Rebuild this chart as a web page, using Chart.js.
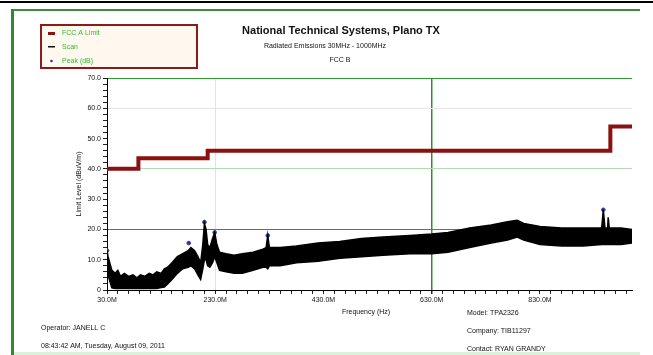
<!DOCTYPE html>
<html>
<head>
<meta charset="utf-8">
<script src="https://cdn.jsdelivr.net/npm/chart.js@4.4.1/dist/chart.umd.min.js"></script>
<style>
html,body{margin:0;padding:0;background:#fff;}
#wrap{width:653px;height:355px;position:relative;}
</style>
</head>
<body>
<div id="wrap"><canvas id="c" width="653" height="355"></canvas></div>
<script>
// ---- data ----
const limitFreq  = [30, 88, 88, 216, 216, 960, 960, 1000];
const limitLevel = [40, 40, 43.5, 43.5, 46, 46, 54, 54];

const scanFreq = [30,32,35,39,45,50,55,62,70,78,85,92,100,108,115,122,130,136,142,150,160,170,180,185,192,198,203,207,210,213,216,220,225,229,233,238,250,265,280,300,318,324,327,330,350,380,420,460,500,540,590,630,660,700,740,770,788,800,830,870,910,944,947,950,955,956,958,980,1000];
const scanHigh = [13,11,9,6.5,5.5,6.5,4.5,5.5,4.5,5,4,5,4.5,5.5,5,6,5.5,7,7.5,9,11,12,13,14,13,11,9,15,22,20,15,14,17,19,15,12.5,12,11.5,12,12.5,13.5,14,18,14,14,14.5,15.5,16,17,17.5,18,18.5,19,20.5,21.5,22.5,23,22,21,20.5,20.5,20.5,26.5,20.5,20.5,24,20.5,20.5,20];
const scanLow  = [7.5,5,3,0.7,0.5,0.5,0.5,0.5,0.5,0.5,0.5,0.5,0.5,0.5,0.5,0.5,0.8,1,2,3.5,5.5,7,7.5,8,7,5,3.5,7,10,10,8,7.5,9,11,9,6.5,6,5.5,5.5,6.5,7.5,7.5,7,8,8,9,9.5,10.5,11,11.5,12,12,12.5,14,15.5,16.5,17.5,16.5,15,14.5,14.5,15,15,15,15,15,15,15,15.5];

const peakFreq  = [30, 181, 210, 229, 327, 947];
const peakLevel = [13, 15.5, 22.4, 19, 18, 26.5];

const xMajorTicks = [30, 230, 430, 630, 830];
const yMajorTicks = [0, 10, 20, 30, 40, 50, 60, 70];

const legendLabels = ["FCC A Limit", "Scan", "Peak (dB)"];

const toXY = (xs, ys) => xs.map((x, i) => ({x: x, y: ys[i]}));

const FONT = '"Liberation Sans", Arial, sans-serif';

const decor = {
  id: 'decor',
  beforeDraw(chart) {
    const ctx = chart.ctx;
    ctx.save();
    ctx.fillStyle = '#ffffff';
    ctx.fillRect(0, 0, chart.width, chart.height);
    ctx.fillStyle = '#000000';
    ctx.fillRect(0, 1, 653, 2);
    ctx.fillStyle = '#3f8a3f';
    ctx.fillRect(12, 9, 628, 2);
    ctx.fillStyle = '#2f8a2f';
    ctx.fillRect(11, 9, 3, 346);
    ctx.fillStyle = '#dcf0dc';
    ctx.fillRect(14, 352, 626, 3);
    ctx.restore();
  },
  afterDraw(chart) {
    const ctx = chart.ctx;
    ctx.save();
    // titles
    ctx.fillStyle = '#111';
    ctx.textAlign = 'center';
    ctx.textBaseline = 'middle';
    ctx.font = 'bold 11px ' + FONT;
    ctx.fillText('National Technical Systems, Plano TX', 341, 31);
    ctx.font = '7px ' + FONT;
    ctx.fillText('Radiated Emissions 30MHz - 1000MHz', 325, 46);
    ctx.fillText('FCC B', 340, 60);
    // axis titles
    ctx.fillText('Frequency (Hz)', 366, 312);
    ctx.save();
    ctx.translate(79, 184);
    ctx.rotate(-Math.PI / 2);
    ctx.fillText('Limit Level (dBuV/m)', 0, 0);
    ctx.restore();
    // footer
    ctx.textAlign = 'left';
    ctx.fillText('Operator: JANELL C', 41, 328);
    ctx.fillText('08:43:42 AM, Tuesday, August 09, 2011', 41, 346);
    ctx.fillText('Model: TPA2326', 467, 313);
    ctx.fillText('Company: TIB11297', 467, 331);
    ctx.fillText('Contact: RYAN GRANDY', 467, 349);
    // legend
    ctx.fillStyle = '#fff8ee';
    ctx.fillRect(41, 25, 156, 43);
    ctx.strokeStyle = '#8b1a1a';
    ctx.lineWidth = 2;
    ctx.strokeRect(41, 25, 156, 43);
    ctx.fillStyle = '#8b1010';
    ctx.fillRect(48, 32, 7, 3);
    ctx.fillStyle = '#111';
    ctx.fillRect(48, 46, 7, 1.5);
    ctx.fillStyle = '#2a3a9a';
    ctx.beginPath(); ctx.arc(51.5, 61, 1.3, 0, Math.PI * 2); ctx.fill();
    ctx.fillStyle = '#2ec22e';
    ctx.font = '7px ' + FONT;
    ctx.fillText(legendLabels[0], 62, 33);
    ctx.fillText(legendLabels[1], 62, 47);
    ctx.fillText(legendLabels[2], 62, 61);
    ctx.restore();
  }
};

new Chart(document.getElementById('c'), {
  type: 'scatter',
  data: {
    datasets: [
      {
        label: legendLabels[0],
        data: toXY(limitFreq, limitLevel),
        showLine: true,
        borderColor: '#8b1010',
        borderWidth: 4,
        pointRadius: 0,
        fill: false
      },
      {
        label: legendLabels[1],
        data: toXY(scanFreq, scanHigh),
        showLine: true,
        borderColor: '#000',
        backgroundColor: '#000',
        borderWidth: 1.5,
        pointRadius: 0,
        fill: '+1'
      },
      {
        label: 'scan-low',
        data: toXY(scanFreq, scanLow),
        showLine: true,
        borderColor: '#000',
        borderWidth: 1.5,
        pointRadius: 0,
        fill: false
      },
      {
        label: legendLabels[2],
        data: toXY(peakFreq, peakLevel),
        showLine: false,
        pointRadius: 1.8,
        pointBackgroundColor: '#2a3a9a',
        pointBorderColor: '#2a3a9a'
      }
    ]
  },
  options: {
    responsive: false,
    animation: false,
    layout: {padding: {left: 0, right: 21, top: 78, bottom: 45}},
    plugins: {legend: {display: false}, title: {display: false}, tooltip: {enabled: false}},
    scales: {
      x: {
        type: 'linear',
        min: 30, max: 1000,
        afterBuildTicks(scale) {
          const t = [];
          for (let v = 30; v <= 1000; v += 20) t.push({value: v});
          scale.ticks = t;
        },
        afterFit(scale) { scale.height = 20; },
        ticks: {
          autoSkip: false, maxRotation: 0, padding: 2,
          color: '#111',
          font: {family: FONT, size: 7},
          callback: (v) => xMajorTicks.includes(v) ? v.toFixed(1) + 'M' : ''
        },
        grid: {
          color: (c) => {
            const v = c.tick && c.tick.value;
            if (v === 630) return '#2f8f2f';
            if (v === 230) return '#dde6dd';
            return 'rgba(0,0,0,0)';
          },
          lineWidth: (c) => (c.tick && c.tick.value === 630) ? 1.5 : 1,
          tickColor: '#222',
          tickLength: 4,
          drawTicks: true
        },
        border: {display: true, color: '#000', width: 1}
      },
      y: {
        type: 'linear',
        min: 0, max: 70,
        afterBuildTicks(scale) {
          const t = [];
          for (let v = 0; v <= 70; v += 2) t.push({value: v});
          scale.ticks = t;
        },
        afterFit(scale) { scale.width = 107; },
        ticks: {
          autoSkip: false, padding: 2,
          color: '#111',
          font: {family: FONT, size: 7},
          callback: (v) => yMajorTicks.includes(v) ? (v === 0 ? '0' : v.toFixed(1)) : ''
        },
        grid: {
          color: (c) => {
            const v = c.tick && c.tick.value;
            if (v === 70) return '#2f9a2f';
            if (v === 60) return '#e6e6e6';
            if (v === 40) return '#b4dcb4';
            if (v === 20) return '#2e962e';
            return 'rgba(0,0,0,0)';
          },
          tickColor: '#222',
          tickLength: 4
        },
        border: {display: true, color: '#000', width: 1}
      }
    }
  },
  plugins: [decor]
});
</script>
</body>
</html>
